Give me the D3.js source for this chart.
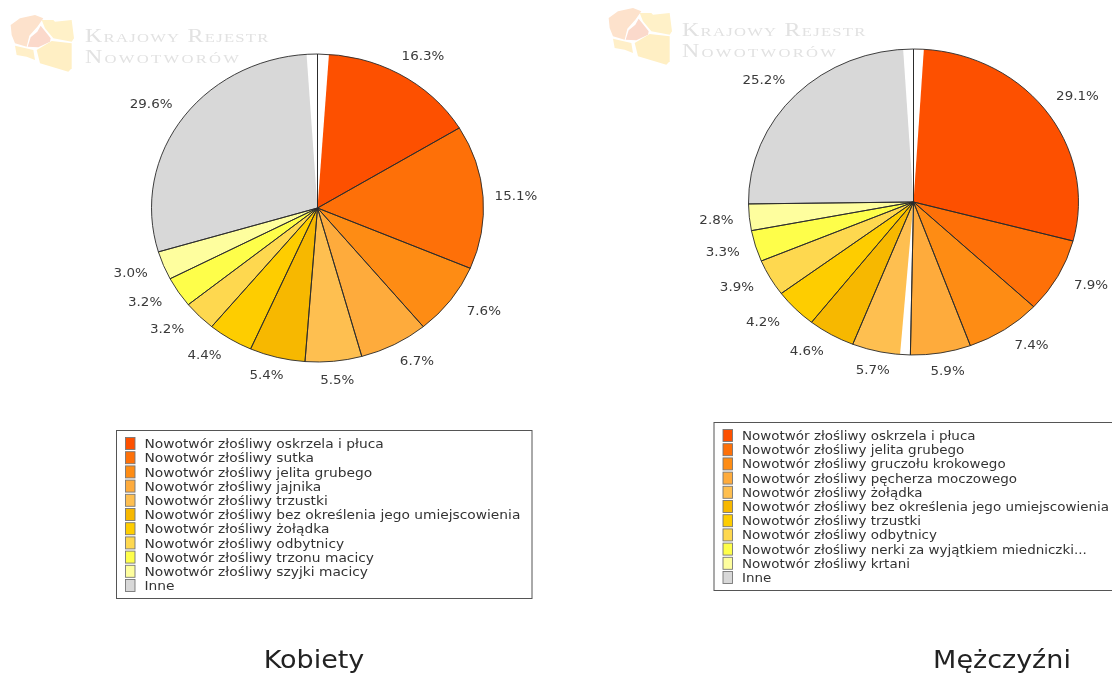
<!DOCTYPE html>
<html><head><meta charset="utf-8">
<script src="https://cdn.jsdelivr.net/npm/d3@7/dist/d3.min.js"></script>
<style>html,body{margin:0;background:#fff}svg{display:block;filter:blur(0.45px)}text{font-family:"DejaVu Sans",sans-serif}</style>
</head><body><svg id="c" width="1112" height="674"></svg>
<script>
const colors = ["#fd5000","#fe7008","#fe8c14","#feab3c","#febf50","#f7b800","#fecd00","#fed84f","#fefe4a","#fefe9e","#d8d8d8"];
const womenLabels = ["Nowotwór złośliwy oskrzela i płuca","Nowotwór złośliwy sutka","Nowotwór złośliwy jelita grubego","Nowotwór złośliwy jajnika","Nowotwór złośliwy trzustki","Nowotwór złośliwy bez określenia jego umiejscowienia","Nowotwór złośliwy żołądka","Nowotwór złośliwy odbytnicy","Nowotwór złośliwy trzonu macicy","Nowotwór złośliwy szyjki macicy","Inne"];
const womenValues = [16.3,15.1,7.6,6.7,5.5,5.4,4.4,3.2,3.2,3.0,29.6];
const womenGaps = [[-1.05,1.1]];
const menLabels = ["Nowotwór złośliwy oskrzela i płuca","Nowotwór złośliwy jelita grubego","Nowotwór złośliwy gruczołu krokowego","Nowotwór złośliwy pęcherza moczowego","Nowotwór złośliwy żołądka","Nowotwór złośliwy bez określenia jego umiejscowienia","Nowotwór złośliwy trzustki","Nowotwór złośliwy odbytnicy","Nowotwór złośliwy nerki za wyjątkiem miedniczki...","Nowotwór złośliwy krtani","Inne"];
const menValues = [29.1,7.9,7.4,5.9,5.7,4.6,4.2,3.9,3.3,2.8,25.2];
const menGaps = [[-1.0,1.0],[50.3,51.3]];

const svg = d3.select("#c");
const stretch = 1.078;
const logoShapes = [
 ["#fde2cc",[[32,60],[60,40],[105,30],[130,40],[112,65],[88,92],[80,125],[45,115],[35,90]]],
 ["#fbd9cb",[[122,62],[152,100],[150,110],[115,127],[83,125],[92,97],[112,80]]],
 ["#fff1c8",[[125,45],[160,45],[165,50],[215,45],[222,100],[215,110],[160,100],[135,70]]],
 ["#ffefc4",[[110,135],[155,108],[215,115],[215,190],[205,200],[120,175]]],
 ["#ffefc8",[[45,122],[100,135],[105,165],[80,155],[50,150]]]
];
function logo(dx,dy,tx,ty){
  const g = svg.append("g").attr("transform",`translate(${dx},${dy}) scale(${1/3})`).style("filter","blur(2px)");
  logoShapes.forEach(([f,p])=>g.append("polygon").attr("fill",f).attr("points",p.join(" ")));
  [["Krajowy Rejestr",0],["Nowotworów",21]].forEach(([t,o])=>{
    svg.append("text").attr("transform",`translate(${tx},${ty+o}) scale(1.26,1)`).attr("fill","#e2e2e2")
      .style("font-family","'Liberation Serif',serif").style("font-variant","small-caps")
      .style("font-size","19px").style("letter-spacing",o?"1.8px":"1px").text(t);
  });
}
function pieChart(o){
  const g = svg.append("g").attr("transform",`translate(${o.cx},${o.cy})`);
  const pct = d3.scaleLinear().domain([0,100]).range([0,2*Math.PI]);
  const total = d3.sum(o.values);
  const arcs = d3.pie().sort(null).startAngle(0).endAngle(2*Math.PI*total/100)(o.values);
  const arc = d3.arc().innerRadius(0).outerRadius(100);
  const shape = g.append("g").attr("transform",`scale(${o.rx/100},${o.ry/100})`);
  shape.selectAll("path.s").data(arcs).join("path").attr("class","s").attr("d",arc).attr("fill",(d,i)=>colors[i]);
  shape.selectAll("path.w").data(o.gaps).join("path").attr("class","w")
    .attr("d",d=>arc({startAngle:pct(d[0]),endAngle:pct(d[1])})).attr("fill","#fff");
  shape.selectAll("path.o").data(arcs).join("path").attr("class","o").attr("d",arc).attr("fill","none")
    .attr("stroke","#2a2a2a").attr("stroke-width",0.9).attr("vector-effect","non-scaling-stroke");
  arcs.forEach(d=>{
    const m=(d.startAngle+d.endAngle)/2, s=Math.sin(m), c=Math.cos(m), ac=Math.abs(c);
    const x=(o.rx+33)*s + 50*s*Math.abs(s)*ac*ac*ac, y=-(o.ry+18)*c - 3*Math.max(c,0);
    g.append("text").attr("transform",`translate(${x},${y}) scale(${stretch},1)`)
      .attr("text-anchor","middle").attr("dy","0.36em").attr("fill","#3a3a3a").style("font-size","12.5px")
      .text(d.value.toFixed(1)+"%");
  });
  const lg = svg.append("g");
  lg.append("rect").attr("x",o.lx).attr("y",o.ly).attr("width",o.lw).attr("height",o.lh)
    .attr("fill","#fff").attr("stroke","#555").attr("stroke-width",1);
  const row = d3.scaleLinear().domain([0,10]).range([o.ly+13,o.ly+155]);
  o.labels.forEach((t,i)=>{
    lg.append("rect").attr("x",o.lx+9).attr("y",row(i)-6).attr("width",9.5).attr("height",12)
      .attr("fill",colors[i]).attr("stroke","#777").attr("stroke-width",0.9);
    lg.append("text").attr("transform",`translate(${o.lx+28},${row(i)}) scale(${stretch},1)`)
      .attr("dy","0.36em").attr("fill","#333").style("font-size",o.fs+"px").text(t);
  });
  svg.append("text").attr("transform",`translate(${o.tx},667.5) scale(1.08,1)`).attr("text-anchor","middle")
    .attr("fill","#222").style("font-size","25px").text(o.title);
}
logo(0,5,85,42);
logo(598,-2,682,36);
pieChart({cx:317.5,cy:208,rx:166,ry:154,values:womenValues,labels:womenLabels,gaps:womenGaps,lx:116.5,ly:430.5,lw:415.5,lh:168,tx:314,title:"Kobiety",fs:12.8});
pieChart({cx:913.5,cy:202,rx:165,ry:153,values:menValues,labels:menLabels,gaps:menGaps,lx:714,ly:422.5,lw:420,lh:168,tx:1002,title:"Mężczyźni",fs:12.5});
</script></body></html>
